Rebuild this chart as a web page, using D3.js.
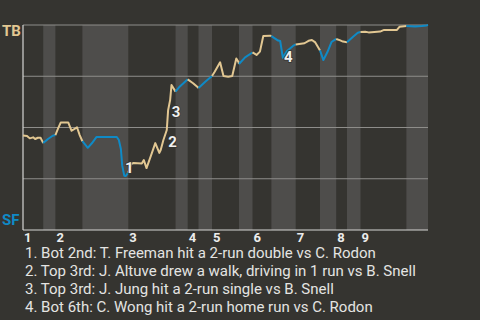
<!DOCTYPE html>
<html>
<head>
<meta charset="utf-8">
<script src="https://cdn.jsdelivr.net/npm/d3@7"></script>
<style>
  html, body { margin: 0; padding: 0; background: #353430; }
  svg { display: block; font-family: Roboto, "Noto Sans", sans-serif; }
</style>
</head>
<body>
<div id="chart"></div>
<script>
// Inning labels and where each inning starts (pitch number)
const innings = ["1", "2", "3", "4", "5", "6", "7", "8", "9"];
const inningStarts = [0, 24, 78, 122, 140, 170, 202, 232, 250];

// Start of every half inning (top, bottom, top, ...) and end of game
const halfStarts = [0, 15, 24, 44, 78, 113, 122, 130, 140, 160, 170, 184, 202, 220, 232, 240, 250, 284];
const gameEnd = 300;

// Win probability for TB (%) by pitch
const pitches = [0, 3, 5, 7.5, 9, 11, 13, 15, 18.5, 22, 24, 26, 28, 33.5, 36, 40, 42, 44, 48, 51,
  54.5, 69.5, 71, 72.5, 73.5, 75, 76, 78, 80, 82, 88, 89.5, 91.5, 95.5, 98, 101, 102, 104, 106.5, 107.5,
  109, 110, 113, 116, 122, 126, 129.5, 130, 135, 140, 142, 146, 148.5, 152, 155, 158, 159.5, 160, 164.5, 170,
  173, 175.5, 178, 183, 184, 189, 190.5, 192.5, 195.5, 200, 202, 208.5, 211.5, 214, 216.5, 218.5, 220, 222.5, 225.5, 228.5,
  232, 235, 237, 240, 244.5, 248, 250, 253.5, 256, 264.5, 267.5, 277, 279, 284, 290.5, 295.5, 299, 300];
const tbWinProb = [46.1, 45.9, 44.7, 45.2, 44.4, 45.0, 45.0, 42.4, 44.4, 46.0, 46.3, 49.6, 52.5, 52.5, 48.4, 50.1, 46.3, 43.3, 40.1, 42.3,
  45.4, 45.4, 43.9, 39.5, 31.4, 26.5, 26.3, 28.0, 32.2, 32.7, 32.4, 34.1, 30.2, 37.6, 42.4, 37.6, 39.0, 43.9, 48.8, 58.5,
  63.4, 70.7, 67.5, 69.9, 73.5, 71.6, 69.6, 69.3, 72.3, 75.1, 77.2, 81.8, 75.1, 74.8, 75.1, 83.7, 82.1, 81.0, 84.2, 86.6,
  85.4, 87.0, 94.6, 94.8, 94.6, 92.4, 92.2, 84.0, 87.3, 89.8, 90.5, 91.1, 92.3, 92.7, 91.5, 89.3, 87.6, 82.9, 86.8, 91.7,
  93.2, 92.5, 91.9, 91.6, 94.3, 96.2, 96.6, 96.7, 96.4, 96.8, 97.6, 97.6, 99.2, 99.5, 99.3, 99.5, 99.8, 100];

// Key plays: marker position (pitch, win prob) and description
const playLabels = ["1", "2", "3", "4"];
const playPitch = [75.5, 107.6, 110.1, 193.3];
const playProb = [28, 40.3, 55.3, 82.1];
const playText = [
  "1. Bot 2nd: T. Freeman hit a 2-run double vs C. Rodon",
  "2. Top 3rd: J. Altuve drew a walk, driving in 1 run vs B. Snell",
  "3. Top 3rd: J. Jung hit a 2-run single vs B. Snell",
  "4. Bot 6th: C. Wong hit a 2-run home run vs C. Rodon"
];

const width = 480, height = 320;
const margin = { top: 25, right: 52, bottom: 90, left: 23 };
const tbColor = "#e2c792", sfColor = "#0f8ac6";

const svg = d3.select("#chart").append("svg")
  .attr("width", width)
  .attr("height", height);

const x = d3.scaleLinear().domain([0, gameEnd]).range([margin.left, width - margin.right]);
const y = d3.scaleLinear().domain([0, 100]).range([height - margin.bottom, margin.top]);

// Shaded bottom halves
const halves = halfStarts.map((s, i) => ({ start: s, end: i < halfStarts.length - 1 ? halfStarts[i + 1] : gameEnd, bottom: i % 2 === 1 }));
svg.append("g")
  .selectAll("rect")
  .data(halves.filter(d => d.bottom))
  .enter().append("rect")
  .attr("x", d => x(d.start))
  .attr("y", y(100))
  .attr("width", d => x(d.end) - x(d.start))
  .attr("height", y(0) - y(100))
  .attr("fill", "#4e4d4b");

// Gridlines
svg.append("g")
  .selectAll("line")
  .data([25, 50, 75, 100])
  .enter().append("line")
  .attr("x1", x(0)).attr("x2", x(gameEnd))
  .attr("y1", d => y(d)).attr("y2", d => y(d))
  .attr("stroke", "#8e8d8a")
  .attr("stroke-width", 1);

// Axes lines
svg.append("line")
  .attr("x1", x(0)).attr("x2", x(gameEnd))
  .attr("y1", y(0)).attr("y2", y(0))
  .attr("stroke", "#d6d6d4").attr("stroke-width", 1.2);
svg.append("line")
  .attr("x1", x(0)).attr("x2", x(0))
  .attr("y1", y(0)).attr("y2", y(100))
  .attr("stroke", "#d6d6d4").attr("stroke-width", 1.2);

// Inning labels
svg.append("g")
  .selectAll("text")
  .data(innings)
  .enter().append("text")
  .attr("x", (d, i) => x(inningStarts[i]) + 1)
  .attr("y", y(0) + 12)
  .attr("font-size", "13px")
  .attr("font-weight", "bold")
  .attr("fill", "#ececec")
  .text(d => d);

// Team labels
svg.append("text")
  .attr("x", 2).attr("y", y(100) + 11)
  .attr("font-size", "15px").attr("font-weight", "bold")
  .attr("fill", tbColor).text("TB");
svg.append("text")
  .attr("x", 2).attr("y", y(0) - 5)
  .attr("font-size", "15px").attr("font-weight", "bold")
  .attr("fill", sfColor).text("SF");

// Win probability line, one piece per half inning
const points = pitches.map((p, i) => ({ p: p, v: tbWinProb[i] }));
const line = d3.line().x(d => x(d.p)).y(d => y(d.v));

svg.append("g")
  .selectAll("path")
  .data(halves)
  .enter().append("path")
  .attr("d", h => line(points.filter(d => d.p >= h.start && d.p <= h.end)))
  .attr("fill", "none")
  .attr("stroke", h => h.bottom ? sfColor : tbColor)
  .attr("stroke-width", 2)
  .attr("stroke-linejoin", "round");

// Play markers
svg.append("g")
  .selectAll("text")
  .data(playLabels)
  .enter().append("text")
  .attr("x", (d, i) => x(playPitch[i]))
  .attr("y", (d, i) => y(playProb[i]))
  .attr("font-size", "15px")
  .attr("font-weight", "bold")
  .attr("fill", "#efefef")
  .attr("stroke", "#353430")
  .attr("stroke-width", 1.5)
  .attr("paint-order", "stroke")
  .text(d => d);

// Play descriptions
svg.append("g")
  .selectAll("text")
  .data(playText)
  .enter().append("text")
  .attr("x", 25)
  .attr("y", (d, i) => 258 + i * 18)
  .attr("font-size", "15px")
  .attr("fill", "#e4e4e2")
  .text(d => d);
</script>
</body>
</html>
